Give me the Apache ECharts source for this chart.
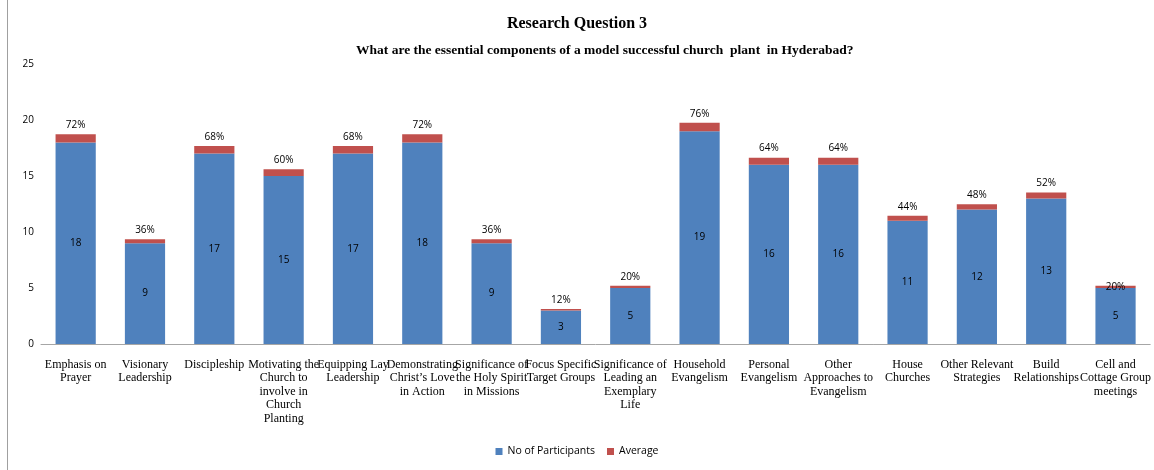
<!DOCTYPE html>
<html>
<head>
<meta charset="utf-8">
<script src="https://cdn.jsdelivr.net/npm/echarts@6/dist/echarts.min.js"></script>
<style>
  html, body { margin: 0; padding: 0; background: #fff; }
  #myChart { width: 1154px; height: 470px; }
</style>
</head>
<body>
<div id="myChart"></div>
<script>
// categories (line breaks as in the original chart)
var categories = [
    'Emphasis on\nPrayer',
    'Visionary\nLeadership',
    'Discipleship',
    'Motivating the\nChurch to\ninvolve in\nChurch\nPlanting',
    'Equipping Lay\nLeadership',
    'Demonstrating\nChrist\u2019s Love\nin Action',
    'Significance of\nthe Holy Spirit\nin Missions',
    'Focus Specific\nTarget Groups',
    'Significance of\nLeading an\nExemplary\nLife',
    'Household\nEvangelism',
    'Personal\nEvangelism',
    'Other\nApproaches to\nEvangelism',
    'House\nChurches',
    'Other Relevant\nStrategies',
    'Build\nRelationships',
    'Cell and\nCottage Group\nmeetings'
];
// number of participants
var participants = [18, 9, 17, 15, 17, 18, 9, 3, 5, 19, 16, 16, 11, 12, 13, 5];
// average in percent
var averagePct = [72, 36, 68, 60, 68, 72, 36, 12, 20, 76, 64, 64, 44, 48, 52, 20];
var yTicks = [0, 5, 10, 15, 20, 25];

var myChart = echarts.init(document.getElementById('myChart'));

var averageData = averagePct.map(function (p, i) {
    var item = { value: p / 100, pct: p };
    // last label sits on the bar in the original
    if (i === averagePct.length - 1) {
        item.label = { offset: [0, 10] };
    }
    return item;
});

var option = {
    backgroundColor: '#ffffff',
    animation: false,
    title: [{
        text: 'Research Question 3',
        left: 'center',
        top: 11,
        textStyle: { fontFamily: 'Liberation Serif', fontSize: 16, fontWeight: 'bold', color: '#000' }
    }, {
        text: 'What are the essential components of a model successful church  plant  in Hyderabad?',
        left: 351,
        top: 39,
        textStyle: { fontFamily: 'Liberation Serif', fontSize: 13.5, fontWeight: 'bold', color: '#000' }
    }],
    legend: {
        bottom: 8,
        left: 'center',
        itemWidth: 7,
        itemHeight: 7,
        itemGap: 12,
        icon: 'rect',
        textStyle: { fontFamily: 'Open Sans', fontSize: 10.5, color: '#000' },
        data: ['No of Participants', 'Average']
    },
    grid: {
        left: 41,
        right: 3,
        top: 64,
        bottom: 126,
        containLabel: false
    },
    xAxis: {
        type: 'category',
        data: categories,
        axisLine: { lineStyle: { color: '#a6a6a6', width: 1 } },
        axisTick: { show: false },
        axisLabel: {
            interval: 0,
            margin: 14,
            fontFamily: 'Liberation Serif',
            fontSize: 12,
            lineHeight: 13.5,
            color: '#000'
        }
    },
    yAxis: {
        type: 'value',
        min: yTicks[0],
        max: yTicks[yTicks.length - 1],
        interval: 5,
        axisLine: { show: false },
        axisTick: { show: false },
        splitLine: { show: false },
        axisLabel: {
            margin: 7,
            fontFamily: 'Open Sans',
            fontSize: 10,
            color: '#000'
        }
    },
    series: [{
        name: 'No of Participants',
        type: 'bar',
        stack: 'total',
        barWidth: '58%',
        data: participants,
        itemStyle: { color: '#4f81bd' },
        label: {
            show: true,
            position: 'inside',
            fontFamily: 'Open Sans',
            fontSize: 10,
            color: '#000'
        }
    }, {
        name: 'Average',
        type: 'bar',
        stack: 'total',
        data: averageData,
        itemStyle: { color: '#c0504d' },
        label: {
            show: true,
            position: 'top',
            distance: 4,
            fontFamily: 'Open Sans',
            fontSize: 10,
            color: '#000',
            formatter: function (p) {
                return p.data.pct + '%';
            }
        }
    }],
    graphic: [{
        type: 'line',
        shape: { x1: 7.5, y1: 0, x2: 7.5, y2: 470 },
        style: { stroke: '#a0a0a0', lineWidth: 1 }
    }]
};

myChart.setOption(option);
window.onresize = myChart.resize;
</script>
</body>
</html>
